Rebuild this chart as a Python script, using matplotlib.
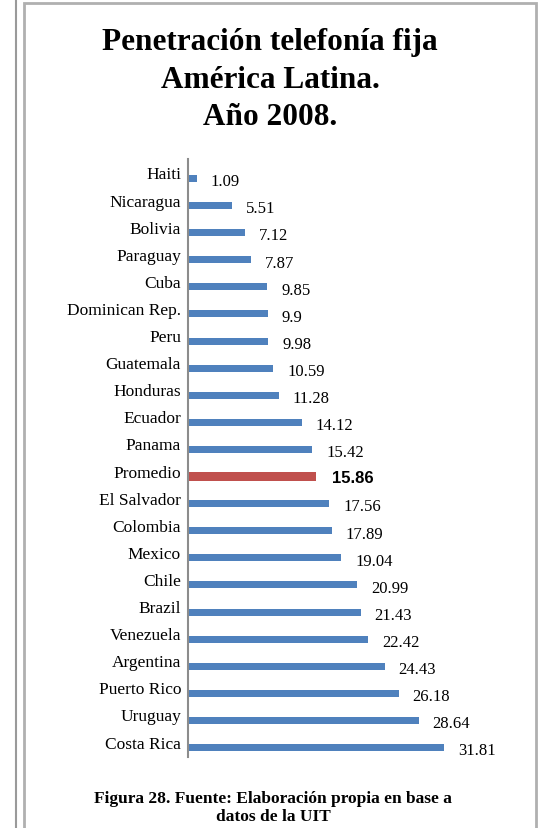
import matplotlib.pyplot as plt
from matplotlib.patches import Rectangle

# datos
paises = ["Haiti", "Nicaragua", "Bolivia", "Paraguay", "Cuba", "Dominican Rep.",
          "Peru", "Guatemala", "Honduras", "Ecuador", "Panama", "Promedio",
          "El Salvador", "Colombia", "Mexico", "Chile", "Brazil", "Venezuela",
          "Argentina", "Puerto Rico", "Uruguay", "Costa Rica"]
valores = [1.09, 5.51, 7.12, 7.87, 9.85, 9.9, 9.98, 10.59, 11.28, 14.12, 15.42,
           15.86, 17.56, 17.89, 19.04, 20.99, 21.43, 22.42, 24.43, 26.18, 28.64, 31.81]
etiquetas = ["1.09", "5.51", "7.12", "7.87", "9.85", "9.9", "9.98", "10.59", "11.28",
             "14.12", "15.42", "15.86", "17.56", "17.89", "19.04", "20.99", "21.43",
             "22.42", "24.43", "26.18", "28.64", "31.81"]

W, H = 545, 829
fig = plt.figure(figsize=(W / 100, H / 100), dpi=100)

# marcos grises
fig.add_artist(plt.Line2D([15.5 / W, 15.5 / W], [0, 1], color="#9a9a9a", lw=1.5))
fig.add_artist(Rectangle((23.5 / W, -0.1), (536 - 23.5) / W, 1.1 - 3.5 / H,
                         transform=fig.transFigure, fill=False,
                         edgecolor="#b0b0b0", lw=2))

# ejes en pixeles
left, right, top, bottom = 188, 520, 160, 758
ax = fig.add_axes([left / W, 1 - bottom / H, (right - left) / W, (bottom - top) / H])

colores = ["#C0504D" if p == "Promedio" else "#4F81BD" for p in paises]
y = list(range(len(paises)))
alturas = [0.3 if p == "Promedio" else 0.26 for p in paises]
ax.barh(y, valores, height=alturas, color=colores)

px_por_unidad = 8.05
ax.set_xlim(0, (right - left) / px_por_unidad)
ax.set_ylim(21 + 9.5 / 27.1, -19.5 / 27.1)

ax.set_yticks(y)
ax.set_yticklabels(paises, family="Liberation Serif", fontsize=12.5, va="baseline")
ax.tick_params(axis="y", length=0, pad=5)
ax.set_xticks([])

for s in ["top", "right", "bottom"]:
    ax.spines[s].set_visible(False)
ax.spines["left"].set_color("#8c8c8c")
ax.spines["left"].set_linewidth(1.5)

# etiquetas de valor
for i, (v, e, p) in enumerate(zip(valores, etiquetas, paises)):
    if p == "Promedio":
        ax.annotate(e, (v, i), xytext=(12, -1), textcoords="offset points",
                    va="center", ha="left", fontsize=12, fontweight="bold",
                    family="Liberation Sans")
    else:
        ax.annotate(e, (v, i), xytext=(10, -2), textcoords="offset points",
                    va="center", ha="left", fontsize=12, family="Liberation Serif")

# titulo
fig.text(270 / W, 1 - 80 / H, "Penetración telefonía fija\nAmérica Latina.\nAño 2008.",
         ha="center", va="center", fontsize=22.5, fontweight="bold",
         family="Liberation Serif", linespacing=1.38)

# pie
fig.text(273 / W, 1 - 808 / H, "Figura 28. Fuente: Elaboración propia en base a\ndatos de la UIT",
         ha="center", va="center", fontsize=12.5, fontweight="bold",
         family="Liberation Serif", linespacing=1.1)

fig.savefig("out.png", dpi=100)
